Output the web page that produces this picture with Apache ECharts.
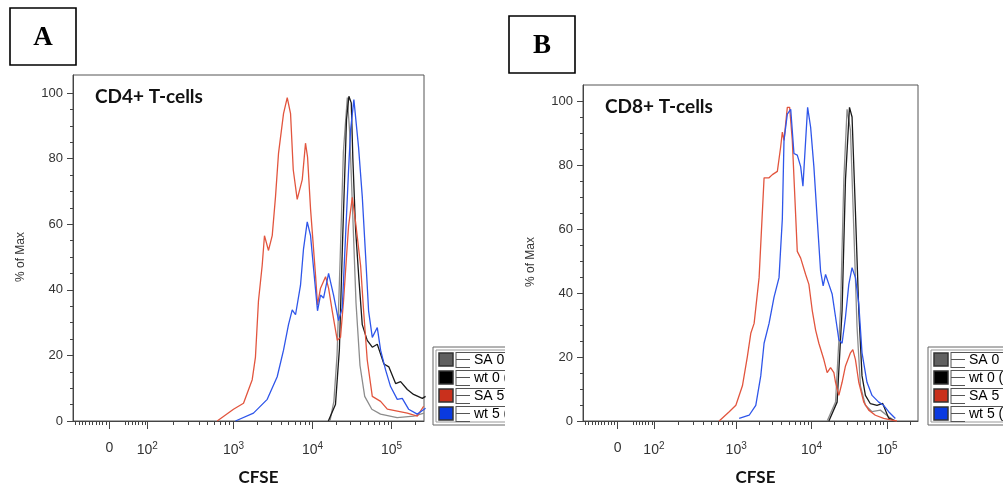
<!DOCTYPE html>
<html>
<head>
<meta charset="utf-8">
<script src="https://cdn.jsdelivr.net/npm/echarts@6/dist/echarts.min.js"></script>
<style>
  html, body { margin: 0; background: #fff; }
  #main { width: 1003px; height: 491px; }
</style>
</head>
<body>
<div id="main"></div>
<script>
// layers, in legend order
var seriesNames = ['SA 0 (day 0)', 'wt 0 (day 0)', 'SA 5 (day 5)', 'wt 5 (day 5)'];
var lineColors = ['#8c8c8c', '#1a1a1a', '#e2553e', '#2f56ea'];
var swatchColors = ['#606060', '#000000', '#c9301c', '#0a3ae0'];
var panelTitles = ['CD4+ T-cells', 'CD8+ T-cells'];
var panelLetters = ['A', 'B'];

// CFSE axis in display decades (logicle-like: 0 at 1.43, 10^2 at 1.91, log above)
var xTickValues = [1.43, 1.91, 3, 4, 5];
var xTickLabels = ['0', '10{s|2}', '10{s|3}', '10{s|4}', '10{s|5}'];
var yTickValues = [0, 20, 40, 60, 80, 100];

// CD4+ panel, [display position, % of max]
var cd4SA0 = [[4.22,0],[4.27,6],[4.31,20],[4.35,50],[4.39,82],[4.44,98.6],[4.47,88],[4.51,62],[4.55,36],
  [4.6,17],[4.66,7.5],[4.75,3.6],[4.86,2.1],[5.07,1],[5.28,1.5],[5.41,2.4]];
var cd4wt0 = [[4.2,0],[4.29,5],[4.34,22],[4.38,55],[4.43,92],[4.46,99],[4.49,97],[4.51,80],[4.544,58.6],
  [4.586,43.5],[4.629,29.4],[4.692,24.6],[4.756,22.5],[4.819,23.4],[4.861,20.4],[4.903,17.4],[4.966,16.5],
  [5.051,11.4],[5.114,12],[5.199,9.6],[5.278,8.1],[5.389,6.9],[5.43,7.5]];
var cd4SA5 = [[2.794,0],[3.0,3.6],[3.127,5.4],[3.237,12.6],[3.278,19.5],[3.316,36.6],[3.363,47.4],[3.392,56.5],
  [3.443,52],[3.49,56.5],[3.532,68.5],[3.57,81.7],[3.633,93.7],[3.68,98.6],[3.722,93.7],[3.756,76.6],
  [3.806,67.6],[3.87,73.6],[3.911,84.7],[3.937,80.5],[3.975,64.6],[4.038,44.4],[4.063,35.4],[4.101,40.5],
  [4.165,44],[4.203,40.5],[4.249,33.6],[4.313,24.6],[4.354,25.5],[4.392,36.6],[4.456,59.5],[4.503,68.2],
  [4.544,60.7],[4.608,47.4],[4.646,33.6],[4.692,18.6],[4.756,7.5],[4.861,6],[4.946,3.6],[5.199,2.4],
  [5.325,1.5],[5.405,4.5]];
var cd4wt5 = [[3.025,0],[3.253,2.4],[3.427,6.6],[3.553,13.5],[3.633,21.6],[3.696,29.4],[3.743,33.9],[3.785,32.4],
  [3.848,41.4],[3.886,52.5],[3.933,60.7],[3.975,56.5],[4.013,46.5],[4.063,33.6],[4.101,38.4],[4.139,37.5],
  [4.203,45],[4.266,38.4],[4.329,30.6],[4.376,34.5],[4.418,56.5],[4.456,76.6],[4.481,88.6],[4.523,98],
  [4.582,83.5],[4.629,68.5],[4.671,50.5],[4.709,33.6],[4.756,25.5],[4.819,28.5],[4.861,21.6],[4.924,15.6],
  [4.987,10.5],[5.072,6.6],[5.135,6.9],[5.215,3.6],[5.325,2.1],[5.43,3.9]];

// CD8+ panel
var cd8SA0 = [[4.206,0],[4.317,5.9],[4.383,34.6],[4.427,75.5],[4.47,97.4],[4.515,90.8],[4.559,60.1],
  [4.602,29.4],[4.647,11],[4.713,4.9],[4.801,2.9],[4.911,3.4],[5.021,1.3],[5.11,0]];
var cd8wt0 = [[4.229,0],[4.338,5.9],[4.404,34.6],[4.449,75.5],[4.502,98],[4.536,95],[4.581,65.2],
  [4.625,34.6],[4.668,14.1],[4.713,8],[4.779,5.4],[4.867,4.9],[4.942,5.5],[5.021,0.9],[5.11,0]];
var cd8SA5 = [[2.775,0],[2.908,2.9],[2.996,4.9],[3.083,11],[3.149,20.2],[3.194,27.4],[3.238,30.5],[3.304,44.8],
  [3.347,65.2],[3.37,76],[3.436,76],[3.48,77],[3.546,78],[3.59,85.7],[3.612,90.3],[3.634,87.7],[3.678,98],
  [3.709,98],[3.744,87.7],[3.779,69.3],[3.81,53],[3.855,50.9],[3.921,45.8],[3.964,42.7],[4.008,34.6],
  [4.053,28.4],[4.096,24.3],[4.162,19.2],[4.206,15.1],[4.251,16.7],[4.295,15.1],[4.317,12.1],[4.361,8],
  [4.404,12.1],[4.449,17.2],[4.515,21.3],[4.546,22.3],[4.581,19.2],[4.625,12.1],[4.691,5.9],[4.757,3.4],
  [4.845,1.8],[4.955,0.8],[5.065,0.3],[5.131,0]];
var cd8wt5 = [[3.04,0.8],[3.172,1.8],[3.26,4.9],[3.326,14.1],[3.37,24.3],[3.436,30.5],[3.502,38.7],[3.568,44.8],
  [3.612,63.2],[3.634,87.7],[3.678,95.9],[3.723,97.4],[3.766,83.6],[3.81,83.1],[3.855,79.5],[3.885,73.4],
  [3.921,87.7],[3.947,98],[3.987,91.8],[4.03,79.5],[4.074,63.2],[4.119,46.8],[4.153,42.2],[4.185,45.8],
  [4.229,42.7],[4.272,39.7],[4.317,32.5],[4.361,25.4],[4.404,24.3],[4.449,32.5],[4.493,42.7],[4.536,47.9],
  [4.581,44.8],[4.625,36.6],[4.668,21.3],[4.734,12.1],[4.801,8],[4.889,5.9],[4.955,4.9],[5.021,2.9],[5.11,0.8]];

var panelData = [[cd4SA0, cd4wt0, cd4SA5, cd4wt5], [cd8SA0, cd8wt0, cd8SA5, cd8wt5]];

// minor ticks of the logicle axis
var xMinorTicks = [];
for (var k = 1; k <= 10; k++) xMinorTicks.push(1.43 - k * 0.043);
for (k = 0; k <= 6; k++) xMinorTicks.push(1.63 + k * 0.042);
for (var m = 2; m <= 9; m++) {
  xMinorTicks.push(1.91 + 1.09 * Math.log10(m));
  xMinorTicks.push(3 + Math.log10(m));
  xMinorTicks.push(4 + Math.log10(m));
}
xMinorTicks.push(5 + Math.log10(2));
var yMinorTicks = [];
for (k = 0; k <= 100; k += 5) yMinorTicks.push(k);

var xMin = 0.97, xMax = 5.41;
var grids = [
  { left: 73, top: 75, width: 351, height: 349, yMax: 105.5, nameShift: 20, legendX: 433, legendW: 76, textW: 40 },
  { left: 583, top: 85, width: 335, height: 341, yMax: 105, nameShift: 10, legendX: 928, legendW: 100, textW: 100 }
];

var axisColor = '#444';
var xAxes = [], yAxes = [], series = [], titles = [];

grids.forEach(function (g, p) {
  xAxes.push({
    type: 'value', gridIndex: p, position: 'bottom', min: xMin, max: xMax,
    name: 'CFSE', nameLocation: 'middle', nameGap: 48,
    nameTextStyle: { fontFamily: 'Lato', fontWeight: 'bold', fontSize: 17, color: '#111', padding: [0, 0, 0, g.nameShift] },
    axisLine: { lineStyle: { color: axisColor } },
    axisTick: { customValues: xTickValues, length: 8, lineStyle: { color: axisColor } },
    axisLabel: {
      customValues: xTickValues, margin: 20, fontFamily: 'Liberation Sans', fontSize: 14, color: '#333',
      formatter: function (v) {
        for (var i = 0; i < xTickValues.length; i++) {
          if (Math.abs(xTickValues[i] - v) < 1e-6) return xTickLabels[i];
        }
        return '';
      },
      rich: { s: { fontSize: 10, color: '#333', fontFamily: 'Liberation Sans', padding: [0, 0, 8, 0] } }
    },
    splitLine: { show: false }
  });
  xAxes.push({
    type: 'value', gridIndex: p, position: 'bottom', offset: 0, min: xMin, max: xMax,
    axisLine: { show: false },
    axisTick: { customValues: xMinorTicks, length: 4, lineStyle: { color: axisColor } },
    axisLabel: { show: false },
    splitLine: { show: false }
  });
  yAxes.push({
    type: 'value', gridIndex: p, position: 'left', min: 0, max: g.yMax,
    name: '% of Max', nameLocation: 'middle', nameGap: 46,
    nameTextStyle: { fontFamily: 'Liberation Sans', fontSize: 12, color: '#333', padding: [0, 18, 0, 0] },
    axisLine: { show: true, lineStyle: { color: axisColor } },
    axisTick: { customValues: yTickValues, length: 6, lineStyle: { color: axisColor } },
    axisLabel: { customValues: yTickValues, margin: 10, fontFamily: 'Liberation Sans', fontSize: 13, color: '#333' },
    splitLine: { show: false }
  });
  yAxes.push({
    type: 'value', gridIndex: p, position: 'left', offset: 0, min: 0, max: g.yMax,
    axisLine: { show: false },
    axisTick: { customValues: yMinorTicks, length: 3, lineStyle: { color: axisColor } },
    axisLabel: { show: false },
    splitLine: { show: false }
  });
  panelData[p].forEach(function (d, i) {
    series.push({
      name: seriesNames[i], type: 'line', data: d,
      xAxisIndex: p * 2, yAxisIndex: p * 2,
      showSymbol: false, symbol: 'none', smooth: false, animation: false,
      lineStyle: { color: lineColors[i], width: 1.3 }
    });
  });
  titles.push({
    text: panelTitles[p], left: g.left + 17, top: g.top + 7,
    textStyle: { fontFamily: 'Lato', fontWeight: 'bold', fontSize: 19, color: '#111' }
  });
});

// FlowJo-style layer legend
function layerLegend(x0, y0, w, textW) {
  var els = [
    { type: 'rect', shape: { x: x0, y: y0, width: w, height: 78 }, style: { fill: '#fff', stroke: '#666', lineWidth: 1 } },
    { type: 'rect', shape: { x: x0 + 3, y: y0 + 3, width: w, height: 72 }, style: { fill: 'none', stroke: '#999', lineWidth: 1 } }
  ];
  seriesNames.forEach(function (name, i) {
    var top = y0 + 5 + i * 18;
    els.push({ type: 'rect', shape: { x: x0 + 6, y: top + 1, width: 14, height: 13 },
      style: { fill: swatchColors[i], stroke: '#333', lineWidth: 1.5 } });
    els.push({ type: 'polyline', shape: { points: [[x0 + 23, top], [x0 + 23, top + 16]] }, style: { stroke: '#555', lineWidth: 1 } });
    [0, 7, 15].forEach(function (dy) {
      els.push({ type: 'polyline', shape: { points: [[x0 + 23, top + dy + 0.5], [x0 + (dy === 0 ? w : 37), top + dy + 0.5]] },
        style: { stroke: '#555', lineWidth: 1 } });
    });
    els.push({ type: 'text', x: x0 + 41, y: top + 8,
      style: { text: name, width: textW, overflow: 'truncate', ellipsis: '',
        fontFamily: 'Liberation Sans', fontSize: 14, fill: '#000', verticalAlign: 'middle' } });
  });
  return els;
}

var graphics = [];
panelLetters.forEach(function (letter, p) {
  var bx = p === 0 ? 10 : 509, by = p === 0 ? 8 : 16;
  graphics.push({ type: 'rect', shape: { x: bx, y: by, width: 66, height: 57 }, style: { fill: '#fff', stroke: '#000', lineWidth: 1.6 } });
  graphics.push({ type: 'text', x: bx + 33, y: by + 30,
    style: { text: letter, fontFamily: 'Liberation Serif', fontWeight: 'bold', fontSize: 27, fill: '#000', align: 'center', verticalAlign: 'middle' } });
});
grids.forEach(function (g) {
  graphics = graphics.concat(layerLegend(g.legendX, 347, g.legendW, g.textW));
});
// panel B's image covers the right edge of panel A's legend
graphics.push({ type: 'rect', z: 50, shape: { x: 505, y: 340, width: 12, height: 90 }, style: { fill: '#fff' } });

var myChart = echarts.init(document.getElementById('main'));
myChart.setOption({
  animation: false,
  backgroundColor: '#fff',
  title: titles,
  grid: grids.map(function (g) {
    return { left: g.left, top: g.top, width: g.width, height: g.height, show: true, borderColor: '#555', borderWidth: 1, containLabel: false };
  }),
  xAxis: xAxes,
  yAxis: yAxes,
  series: series,
  graphic: graphics
});
</script>
</body>
</html>
